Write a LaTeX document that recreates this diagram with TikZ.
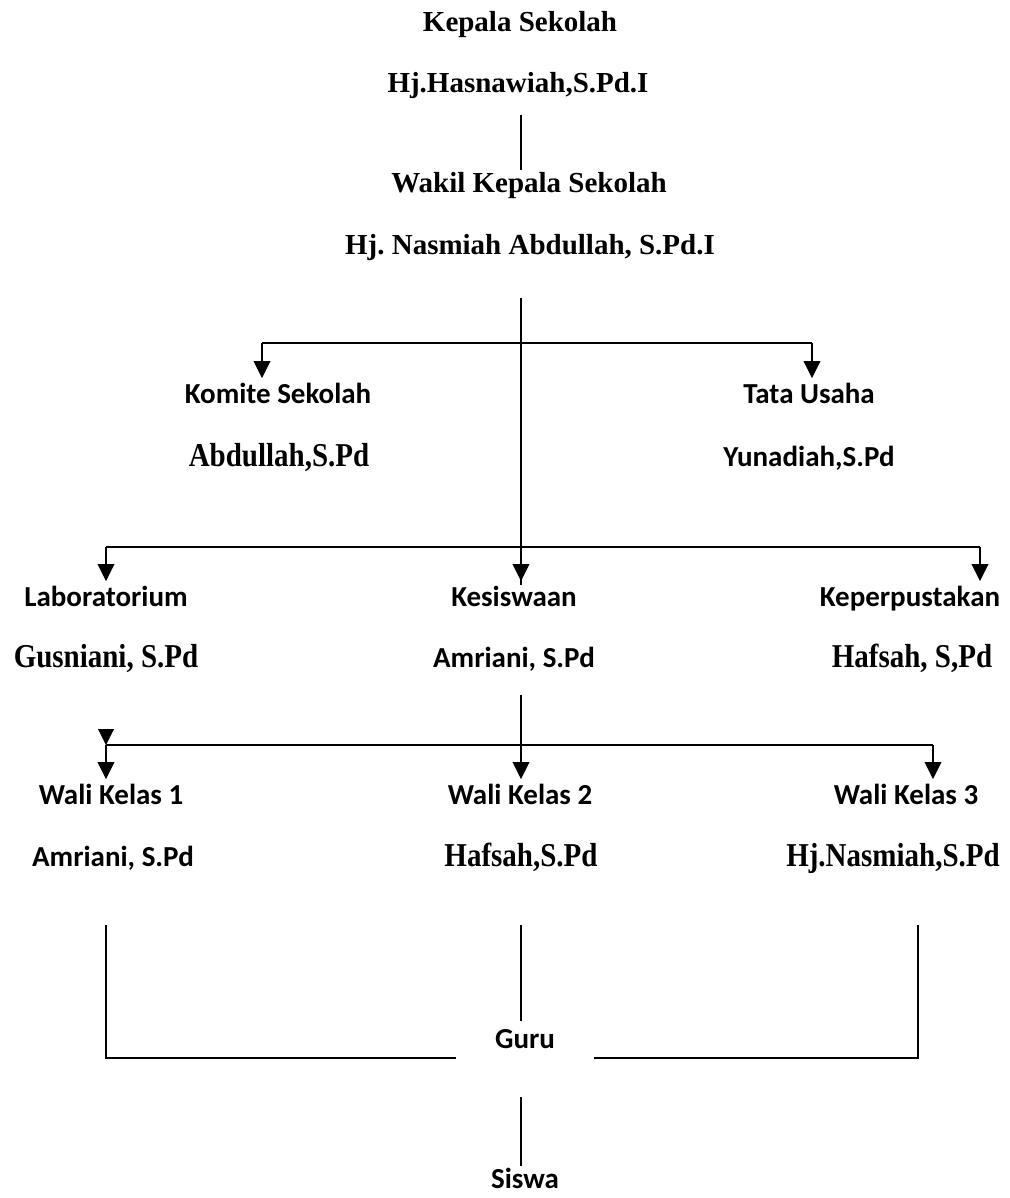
\documentclass[tikz,border=0pt]{standalone}
\usepackage{graphicx}
\usepackage{fontspec}
\setmainfont{Liberation Serif}
\newfontfamily\calibri{Carlito}
\usetikzlibrary{arrows.meta}
\newcommand{\tallname}[1]{\scalebox{1}[1.15]{#1}}
\frenchspacing
\begin{document}
\begin{tikzpicture}[x=0.02cm,y=-0.02cm,
    sans/.style={font=\calibri\bfseries\fontsize{16.5}{18}\selectfont, text height=11pt, text depth=3pt, inner sep=3pt},
    serif/.style={font=\bfseries\fontsize{16.5}{18}\selectfont, text height=11pt, text depth=3pt, inner sep=3pt},
    line/.style={line width=0.8pt},
    branch/.style={line width=1.1pt},
    arr/.style={-{Triangle[width=0.33cm,length=0.34cm]}, line width=1.1pt}]
    \useasboundingbox (0,0) rectangle (1010,1198);

    % Kepala dan wakil
    \node[serif] (kepala) at (520,24) {Kepala Sekolah};
    \node[serif] (hasnawiah) at (518,85) {Hj.Hasnawiah,S.Pd.I};
    \node[serif] (wakil) at (529,185) {Wakil Kepala Sekolah};
    \node[serif] (nasmiah) at (530,247) {Hj. Nasmiah Abdullah, S.Pd.I};
    \coordinate (k1) at (521,115);
    \coordinate (k2) at (521,170);
    \draw[line] (k1) -- (k2);

    % Komite dan tata usaha
    \node[sans] (komite) at (278,396) {Komite Sekolah};
    \node[serif] (abdullah) at (279,459) {\tallname{Abdullah,S.Pd}};
    \node[sans] (tatausaha) at (809,396) {Tata Usaha};
    \node[sans] (yunadiah) at (809,459) {Yunadiah,S.Pd};
    \coordinate (w1) at (521,298);
    \coordinate (w2) at (521,585);
    \coordinate (jl1) at (262,343);
    \coordinate (jr1) at (812,343);
    \draw[line] (w1) -- (w2);
    \draw[branch] (jl1) -- (jr1);
    \draw[arr] (jl1) -- (jl1 |- komite.north);
    \draw[arr] (jr1) -- (jr1 |- tatausaha.north);

    % Laboratorium, kesiswaan, perpustakaan
    \node[sans] (lab) at (106,599) {Laboratorium};
    \node[serif] (gusniani) at (106,660) {\tallname{Gusniani, S.Pd}};
    \node[sans] (kesiswaan) at (514,599) {Kesiswaan};
    \node[sans] (amriani) at (514,660) {Amriani, S.Pd};
    \node[sans] (perpus) at (910,599) {Keperpustakan};
    \node[serif] (hafsah) at (912,660) {\tallname{Hafsah, S,Pd}};
    \coordinate (jl2) at (106,547);
    \coordinate (jm2) at (521,547);
    \coordinate (jr2) at (980,547);
    \draw[branch] (jl2) -- (jr2);
    \draw[arr] (jl2) -- (jl2 |- lab.north);
    \draw[arr] (jm2) -- (jm2 |- kesiswaan.north);
    \draw[arr] (jr2) -- (jr2 |- perpus.north);

    % Wali kelas
    \node[sans] (wali1) at (111,797) {Wali Kelas 1};
    \node[sans] (wali2) at (520,797) {Wali Kelas 2};
    \node[sans] (wali3) at (906,797) {Wali Kelas 3};
    \node[sans] (amriani2) at (113,859) {Amriani, S.Pd};
    \node[serif] (hafsah2) at (521,859) {\tallname{Hafsah,S.Pd}};
    \node[serif] (nasmiah2) at (893,859) {\tallname{Hj.Nasmiah,S.Pd}};
    \coordinate (a1) at (521,695);
    \coordinate (jl3) at (106,745);
    \coordinate (jm3) at (521,745);
    \coordinate (jr3) at (933,745);
    \draw[line] (a1) -- (jm3);
    \draw[branch] (jl3) -- (jr3);
    \fill (98,729) -- (114,729) -- (jl3) -- cycle;
    \draw[arr] (jl3) -- (jl3 |- wali1.north);
    \draw[arr] (jm3) -- (jm3 |- wali2.north);
    \draw[arr] (jr3) -- (jr3 |- wali3.north);

    % Guru dan siswa
    \node[sans] (guru) at (525,1041) {Guru};
    \node[sans] (siswa) at (525,1181) {Siswa};
    \coordinate (g1) at (106,925);
    \coordinate (g2) at (106,1058);
    \coordinate (g3) at (456,1058);
    \coordinate (g4) at (594,1058);
    \coordinate (g5) at (918,1058);
    \coordinate (g6) at (918,925);
    \coordinate (g7) at (521,925);
    \coordinate (g8) at (521,1021);
    \coordinate (s1) at (521,1097);
    \coordinate (s2) at (521,1166);
    \draw[line] (g1) -- (g2) -- (g3);
    \draw[line] (g4) -- (g5) -- (g6);
    \draw[line] (g7) -- (g8);
    \draw[line] (s1) -- (s2);
\end{tikzpicture}
\end{document}
